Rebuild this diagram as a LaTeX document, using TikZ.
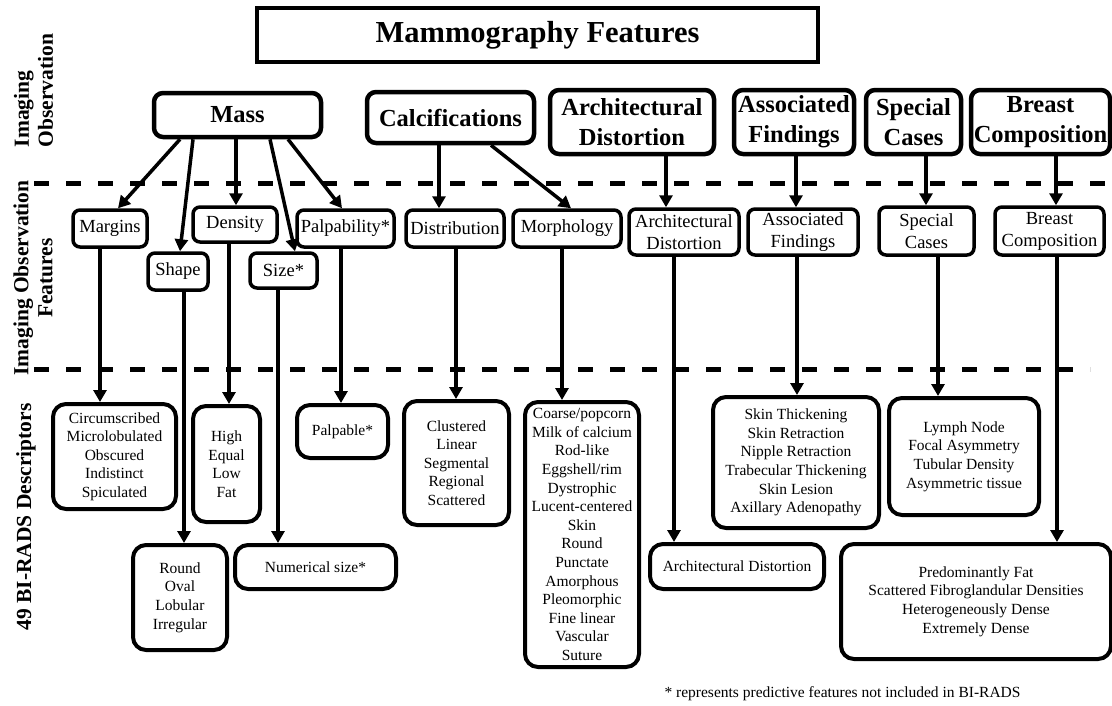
\documentclass[tikz,border=0pt]{standalone}
\usepackage{fontspec}
\setmainfont{Liberation Serif}
\usetikzlibrary{arrows.meta}
\begin{document}
\begin{tikzpicture}[x=1pt,y=-1pt,
  arr/.style={line width=3.5pt,-{Triangle[length=12pt,width=13pt]}},
  titlebox/.style={draw,line width=3.5pt,inner sep=0pt,font=\fontsize{30.5}{36}\selectfont\bfseries},
  lone/.style={draw,line width=4.5pt,rounded corners=9pt,align=center,inner sep=0pt,font=\fontsize{24.5}{30}\selectfont\bfseries},
  ltwo/.style={draw,line width=3.5pt,rounded corners=7pt,align=center,inner sep=0pt,font=\fontsize{18.5}{22}\selectfont},
  lthree/.style={draw,line width=4pt,rounded corners=13pt,align=center,inner sep=0pt,font=\fontsize{15.5}{18.6}\selectfont},
  side/.style={rotate=90,inner sep=0pt,font=\fontsize{21.5}{24}\selectfont\bfseries},
  dashline/.style={line width=5pt,dash pattern=on 15pt off 17pt},
  note/.style={inner sep=0pt,font=\fontsize{15.5}{18}\selectfont}]
\useasboundingbox (0,0) rectangle (1112,705);
\fill[white] (0,0) rectangle (1112,705);

% dashed separators
\draw[dashline] (34,183) -- (1112,183);
\draw[dashline] (34,369) -- (1090,369);

% side labels
\node[side,align=left] (labA) at (33.5,90.5) {Imaging\\Observation};
\node[side,align=center] (labB) at (33,278) {Imaging Observation\\Features};
\node[side] (labC) at (26,517) {49 BI-RADS Descriptors};

% title
\node[titlebox,minimum width=561pt,minimum height=54pt] (title) at (537.5,35) {Mammography Features};

% level 1
\node[lone,minimum width=167pt,minimum height=44pt] (mass) at (237.5,115) {Mass};
\node[lone,minimum width=167pt,minimum height=51pt] (calc) at (450.5,117.5) {Calcifications};
\node[lone,minimum width=164pt,minimum height=64pt] (arch) at (632,122) {Architectural\\Distortion};
\node[lone,minimum width=120pt,minimum height=64pt] (assoc) at (794,122) {Associated\\Findings};
\node[lone,minimum width=95pt,minimum height=64pt] (special) at (913.5,122) {Special\\Cases};
\node[lone,minimum width=139pt,minimum height=64pt] (breast) at (1040.5,122) {Breast\\Composition};

% level 2
\node[ltwo,minimum width=74pt,minimum height=37pt] (margins) at (110,228.5) {Margins};
\node[ltwo,minimum width=60pt,minimum height=37pt] (shape) at (178,271.5) {Shape};
\node[ltwo,minimum width=84pt,minimum height=35pt] (density) at (235,224.5) {Density};
\node[ltwo,minimum width=67pt,minimum height=35pt] (size) at (283.5,270.5) {Size*};
\node[ltwo,minimum width=97pt,minimum height=37pt] (palp) at (345.5,228.5) {Palpability*};
\node[ltwo,minimum width=98pt,minimum height=37pt] (distr) at (455,228.5) {Distribution};
\node[ltwo,minimum width=108pt,minimum height=37pt] (morph) at (567,228.5) {Morphology};
\node[ltwo,minimum width=110pt,minimum height=46pt] (arch2) at (684,232) {Architectural\\Distortion};
\node[ltwo,minimum width=110pt,minimum height=46pt] (assoc2) at (803,232) {Associated\\Findings};
\node[ltwo,minimum width=95pt,minimum height=48pt] (special2) at (926.5,231) {Special\\Cases};
\node[ltwo,minimum width=109pt,minimum height=48pt] (breast2) at (1049.5,231) {Breast\\Composition};

% level 3
\node[lthree,minimum width=123pt,minimum height=105pt] (mdesc) at (114.5,456.5) {Circumscribed\\Microlobulated\\Obscured\\Indistinct\\Spiculated};
\node[lthree,minimum width=94pt,minimum height=105pt] (shdesc) at (180,597.5) {Round\\Oval\\Lobular\\Irregular};
\node[lthree,minimum width=67pt,minimum height=116pt] (ddesc) at (226.5,464) {High\\Equal\\Low\\Fat};
\node[lthree,minimum width=91pt,minimum height=53pt] (palpdesc) at (342.5,431.5) {Palpable*};
\node[lthree,minimum width=161pt,minimum height=44pt] (numsize) at (315.5,567) {Numerical size*};
\node[lthree,minimum width=105pt,minimum height=124pt] (distdesc) at (456.5,463) {Clustered\\Linear\\Segmental\\Regional\\Scattered};
\node[lthree,minimum width=114pt,minimum height=265pt] (morphdesc) at (582,534.5) {Coarse/popcorn\\Milk of calcium\\Rod-like\\Eggshell/rim\\Dystrophic\\Lucent-centered\\Skin\\Round\\Punctate\\Amorphous\\Pleomorphic\\Fine linear\\Vascular\\Suture};
\node[lthree,minimum width=174pt,minimum height=45pt] (archdesc) at (737,566.5) {Architectural Distortion};
\node[lthree,minimum width=166pt,minimum height=131pt] (assocdesc) at (796,462.5) {Skin Thickening\\Skin Retraction\\Nipple Retraction\\Trabecular Thickening\\Skin Lesion\\Axillary Adenopathy};
\node[lthree,minimum width=150pt,minimum height=117pt] (specdesc) at (964,456.5) {Lymph Node\\Focal Asymmetry\\Tubular Density\\Asymmetric tissue};
\node[lthree,minimum width=270pt,minimum height=115pt] (breastdesc) at (976,601.5) {Predominantly Fat\\Scattered Fibroglandular Densities\\Heterogeneously Dense\\Extremely Dense};

% footnote
\node[note] (foot) at (842.5,694) {* represents predictive features not included in BI-RADS};

% level 1 -> level 2
\draw[arr] ([xshift=-57.5pt]mass.south) -- ([xshift=8pt]margins.north);
\draw[arr] ([xshift=-44.5pt]mass.south) -- ([xshift=2pt]shape.north);
\draw[arr] ([xshift=-1.5pt]mass.south) -- ([xshift=1pt]density.north);
\draw[arr] ([xshift=32.5pt]mass.south) -- ([xshift=11.5pt]size.north);
\draw[arr] ([xshift=50.5pt]mass.south) -- ([xshift=-3.5pt]palp.north);
\draw[arr] ([xshift=-11.5pt]calc.south) -- ([xshift=-16pt]distr.north);
\draw[arr] ([xshift=40.5pt]calc.south) -- ([xshift=4pt]morph.north);
\draw[arr] ([xshift=34pt]arch.south) -- ([xshift=-18pt]arch2.north);
\draw[arr] ([xshift=2pt]assoc.south) -- ([xshift=-7pt]assoc2.north);
\draw[arr] ([xshift=12.5pt]special.south) -- ([xshift=-0.5pt]special2.north);
\draw[arr] ([xshift=15.5pt]breast.south) -- ([xshift=6.5pt]breast2.north);

% level 2 -> level 3
\draw[arr] ([xshift=-10pt]margins.south) -- ([xshift=-14.5pt]mdesc.north);
\draw[arr] ([xshift=6pt]shape.south) -- ([xshift=4pt]shdesc.north);
\draw[arr] ([xshift=-6pt]density.south) -- ([xshift=2.5pt]ddesc.north);
\draw[arr] ([xshift=-5.5pt]size.south) -- ([xshift=-37.5pt]numsize.north);
\draw[arr] ([xshift=-4.5pt]palp.south) -- ([xshift=-1.5pt]palpdesc.north);
\draw[arr] ([xshift=1pt]distr.south) -- ([xshift=-0.5pt]distdesc.north);
\draw[arr] ([xshift=-5pt]morph.south) -- ([xshift=-20pt]morphdesc.north);
\draw[arr] ([xshift=-10pt]arch2.south) -- ([xshift=-63pt]archdesc.north);
\draw[arr] ([xshift=-6pt]assoc2.south) -- ([xshift=1pt]assocdesc.north);
\draw[arr] ([xshift=11.5pt]special2.south) -- ([xshift=-26pt]specdesc.north);
\draw[arr] ([xshift=7.5pt]breast2.south) -- ([xshift=81pt]breastdesc.north);
\end{tikzpicture}
\end{document}
